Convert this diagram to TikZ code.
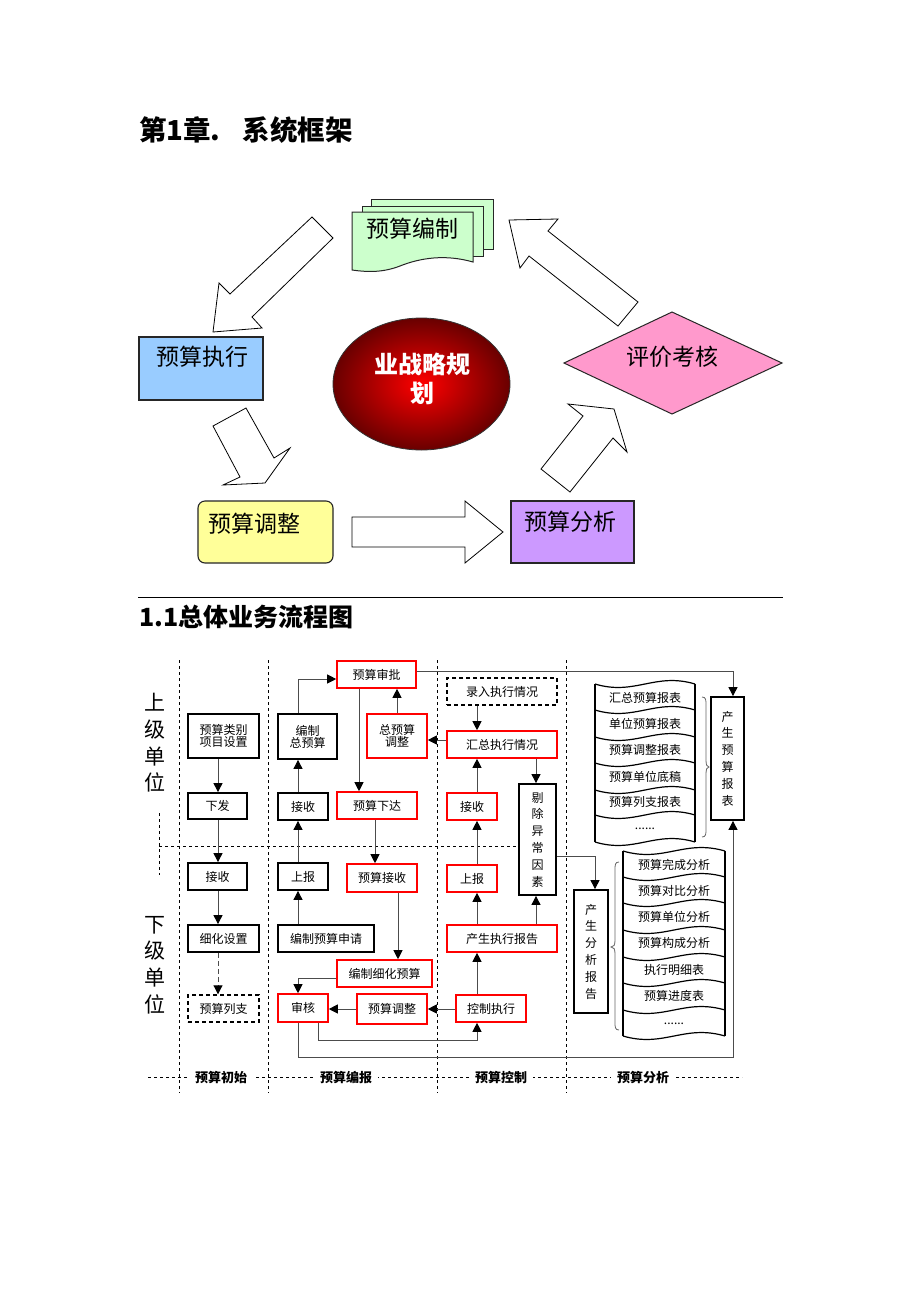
\documentclass[tikz,border=0pt]{standalone}
\usepackage{fontspec}
\setmainfont{Noto Sans CJK SC}
\usetikzlibrary{arrows.meta,shapes.geometric,calc}
\newcommand\fpx[1]{\fontsize{#1}{#1}\selectfont}
\newcommand\bx[7]{\node[#2, minimum width={#5-#3}, minimum height={#6-#4}] (#1) at ({(#3+#5)/2},{(#4+#6)/2}) {#7};}
\definecolor{cgreen}{RGB}{204,255,204}
\definecolor{cblue}{RGB}{153,204,255}
\definecolor{cpink}{RGB}{255,153,204}
\definecolor{cyellow}{RGB}{255,255,153}
\definecolor{cpurple}{RGB}{204,153,255}
\definecolor{dred}{RGB}{105,0,0}
\definecolor{bred}{RGB}{255,0,0}
\begin{document}
\begin{tikzpicture}[x=1pt,y=-1pt,
  bk/.style={draw=black, line width=1.8pt, fill=white, inner sep=0pt, font=\fpx{12}, align=center},
  rd/.style={draw=red, line width=1.6pt, fill=white, inner sep=0pt, font=\fpx{12}, align=center},
  dsh/.style={bk, line width=1.4pt, dash pattern=on 4pt off 3pt},
  vt/.style={font=\fontsize{12}{16.8}\selectfont},
  conn/.style={draw=black!70, line width=0.9pt, -{Triangle[length=9pt,width=9pt,color=black]}},
  vdiv/.style={draw=black, line width=0.7pt, dash pattern=on 3pt off 3pt},
  hollow/.style={draw=black, line width=0.8pt, fill=white, line join=miter},
  topbox/.style={draw=black!85, line width=1.1pt, inner sep=0pt},
  bigtxt/.style={font=\fpx{23}, inner sep=0pt},
  lbl/.style={font=\fpx{12}, inner sep=0pt},
  lst/.style={draw=black, line width=1.2pt},
  brc/.style={draw=black!60, line width=0.8pt},
  side/.style={font=\fontsize{21}{26.7}\selectfont, align=center, inner sep=0pt},
  foot/.style={font=\bfseries\fpx{13}, fill=white, inner xsep=6pt, inner ysep=2pt}]
\fill[white] (0,0) rectangle (920,1302);
\useasboundingbox (0,0) rectangle (920,1302);

% ---------- titles ----------
\node[anchor=west, font=\bfseries\fpx{27.5}, inner sep=0pt] (title) at (139,130) {第1章.\hspace{22pt}系统框架};
\draw[black, line width=1pt] (138,597.5) -- (783,597.5);
\node[anchor=west, font=\bfseries\fpx{25}, inner sep=0pt] (head) at (139,617) {1.1总体业务流程图};

% ---------- top cycle ----------
\draw[draw=black!85, line width=1pt, fill=cgreen] (371,199) rectangle (493,249);
\draw[draw=black!85, line width=1pt, fill=cgreen] (362,206) rectangle (483,256);
\draw[draw=black!85, line width=1pt, fill=cgreen] (352,212) -- (473,212) -- (473,262)
  .. controls (445,254) and (420,258) .. (400,266) .. controls (382,273) and (366,272) .. (352,270) -- cycle;
\node[bigtxt] (bz) at (412,229) {预算编制};

\node[topbox, fill=cblue, minimum width=124, minimum height=63] (zx) at (201,368.5) {};
\node[bigtxt] (zxt) at (202,357) {预算执行};

\node[topbox, fill=cyellow, rounded corners=7pt, minimum width=135, minimum height=62] (tz) at (265.5,532) {};
\node[bigtxt] (tzt) at (254,524) {预算调整};

\node[topbox, fill=cpurple, minimum width=123, minimum height=62] (fx) at (572.5,532) {};
\node[bigtxt] (fxt) at (570,522) {预算分析};

\draw[draw=black!85, line width=1pt, fill=cpink] (564,363) -- (672,312) -- (782,363) -- (672,414) -- cycle;
\node[bigtxt] (pj) at (672,357) {评价考核};

\node[ellipse, draw=black!80, line width=0.8pt, minimum width=177, minimum height=132, inner sep=0pt,
  shading=radial, inner color=bred, outer color=dred] (core) at (421.5,384) {};
\node[font=\bfseries\fontsize{24}{29}\selectfont, text=white, align=center, inner sep=0pt] (coret) at (422,379) {业战略规\\划};

% hollow arrows
\draw[hollow] (213,332) -- (219,283) -- (230,294) -- (312,217) -- (333,238) -- (252,317) -- (262,328) -- cycle;
\draw[hollow] (213,426) -- (246,408) -- (274,458) -- (290,448) -- (265,483) -- (223,485) -- (240,477) -- cycle;
\draw[hollow] (352,517) -- (465,517) -- (465,501) -- (503,532) -- (465,563) -- (465,547) -- (352,547) -- cycle;
\draw[hollow] (541,469) -- (583,416) -- (568,404) -- (614,409) -- (627,452) -- (613,438) -- (570,492) -- cycle;
\draw[hollow] (509,220) -- (558,219) -- (548,231) -- (638,302) -- (618,326) -- (529,256) -- (520,268) -- cycle;

% ---------- flow chart: dividers ----------
\foreach \xx in {179,268,437,566} \draw[vdiv] (\xx,660) -- (\xx,1093);
\draw[vdiv] (159,846) -- (519,846);
\draw[vdiv] (159,813) -- (159,875);
\draw[vdiv] (148,1077) -- (742,1077);
\node[foot] (f1) at (221,1078) {预算初始};
\node[foot] (f2) at (346,1078) {预算编报};
\node[foot] (f3) at (501,1078) {预算控制};
\node[foot] (f4) at (643,1078) {预算分析};

\node[side] (up) at (155,743) {上\\级\\单\\位};
\node[side] (dn) at (155,965) {下\\级\\单\\位};

% helper coordinates
\coordinate (cA) at (218,0);
\coordinate (cB) at (298,0);
\coordinate (cC) at (318,0);
\coordinate (cD) at (359,0);
\coordinate (cE) at (397,0);
\coordinate (cF) at (375,0);
\coordinate (cG) at (398,0);
\coordinate (cH) at (477,0);
\coordinate (cI) at (536,0);
\coordinate (cJ) at (595,0);
\coordinate (cK) at (733,0);
\coordinate (rA) at (0,671);
\coordinate (rB) at (0,679);
\coordinate (rC) at (0,1040);
\coordinate (rD) at (0,1057);
\coordinate (rE) at (0,856);
\coordinate (rF) at (0,978);
\coordinate (rG) at (0,1009);
\coordinate (rH) at (0,740);

% column 1
\bx{n1}{bk}{188}{714}{259}{758}{预算类别\\项目设置}
\bx{n2}{bk}{188}{793}{247}{819}{下发}
\bx{n3}{bk}{188}{863}{247}{890}{接收}
\bx{n4}{bk}{188}{925}{259}{952}{细化设置}
\bx{n5}{dsh}{188}{995}{259}{1022}{预算列支}
% column 2
\bx{m1}{bk}{278}{714}{337}{759}{编制\\总预算}
\bx{m2}{bk}{278}{793}{328}{820}{接收}
\bx{m3}{bk}{278}{863}{328}{890}{上报}
\bx{m4}{bk}{278}{925}{374}{952}{编制预算申请}
\bx{r1}{rd}{337}{661}{416}{688}{预算审批}
\bx{r2}{rd}{367}{714}{427}{758}{总预算\\调整}
\bx{r3}{rd}{337}{792}{417}{819}{预算下达}
\bx{r4}{rd}{347}{864}{417}{892}{预算接收}
\bx{r5}{rd}{337}{960}{432}{987}{编制细化预算}
\bx{r6}{rd}{278}{994}{328}{1022}{审核}
\bx{r7}{rd}{357}{994}{427}{1024}{预算调整}
% column 3
\bx{k1}{dsh}{447}{678}{557}{705}{录入执行情况}
\bx{k2}{rd}{447}{731}{557}{758}{汇总执行情况}
\bx{k3}{rd}{447}{793}{497}{820}{接收}
\bx{k4}{rd}{447}{865}{497}{892}{上报}
\bx{k5}{rd}{447}{925}{557}{952}{产生执行报告}
\bx{k6}{rd}{456}{995}{526}{1022}{控制执行}
\bx{k7}{bk,vt}{519}{784}{556}{895}{剔\\除\\异\\常\\因\\素}
% column 4
\bx{p1}{bk,vt}{574}{890}{608}{1013}{产\\生\\分\\析\\报\\告}
\bx{p2}{bk,vt}{711}{697}{744}{820}{产\\生\\预\\算\\报\\表}

% report lists
\foreach \yy in {684,710,737,763,790,815,842}
  \draw[lst] (595,\yy) .. controls (635,\yy+12) and (655,\yy-12) .. (695,\yy);
\draw[lst] (595,684) -- (595,842);
\draw[lst] (695,684) -- (695,842);
\node[lbl] (a1) at (645,698) {汇总预算报表};
\node[lbl] (a2) at (645,724) {单位预算报表};
\node[lbl] (a3) at (645,750) {预算调整报表};
\node[lbl] (a4) at (645,777) {预算单位底稿};
\node[lbl] (a5) at (645,802) {预算列支报表};
\node[lbl] (a6) at (645,829) {......};

\foreach \yy in {851,877,903,930,957,983,1010,1036}
  \draw[lst] (623,\yy) .. controls (664,\yy+12) and (684,\yy-12) .. (725,\yy);
\draw[lst] (623,851) -- (623,1036);
\draw[lst] (725,851) -- (725,1036);
\node[lbl] (b1) at (674,865) {预算完成分析};
\node[lbl] (b2) at (674,891) {预算对比分析};
\node[lbl] (b3) at (674,917) {预算单位分析};
\node[lbl] (b4) at (674,943) {预算构成分析};
\node[lbl] (b5) at (674,970) {执行明细表};
\node[lbl] (b6) at (674,996) {预算进度表};
\node[lbl] (b7) at (674,1024) {......};

% braces
\draw[brc] (702,697) .. controls (706,697) and (706,700) .. (706,705) -- (706,760)
  .. controls (706,765) and (707,767) .. (709,767) .. controls (707,767) and (706,769) .. (706,774)
  -- (706,829) .. controls (706,834) and (706,837) .. (702,837);
\draw[brc] (619,862) .. controls (615,862) and (615,865) .. (615,870) -- (615,940)
  .. controls (615,945) and (614,947) .. (611,947) .. controls (614,947) and (615,949) .. (615,954)
  -- (615,1022) .. controls (615,1027) and (615,1030) .. (619,1030);

% connectors column 1
\draw[conn] (n1.south -| cA) -- (n2.north -| cA);
\draw[conn] (n2.south -| cA) -- (n3.north -| cA);
\draw[conn] (n3.south -| cA) -- (n4.north -| cA);
\draw[conn, dash pattern=on 5pt off 3pt] (n4.south -| cA) -- (n5.north -| cA);
% column 2
\draw[conn] (m4.north -| cB) -- (m3.south -| cB);
\draw[conn] (m3.north -| cB) -- (m2.south -| cB);
\draw[conn] (m2.north -| cB) -- (m1.south -| cB);
\draw[conn] (m1.north -| cB) |- (r1.west |- rB);
\draw[conn] (r1.south -| cD) -- (r3.north -| cD);
\draw[conn] (r2.north -| cE) -- (r1.south -| cE);
\draw[conn] (k2.west |- rH) -- (r2.east |- rH);
\draw[conn] (r3.south -| cF) -- (r4.north -| cF);
\draw[conn] (r4.south -| cG) -- (r5.north -| cG);
\draw[conn] (r5.west |- rF) -| (r6.north -| cB);
\draw[conn] (r7.west |- rG) -- (r6.east |- rG);
\draw[conn] (k6.west |- rG) -- (r7.east |- rG);
\draw[conn] (r6.south -| cC) |- (rC -| cH) -- (k6.south -| cH);
\draw[conn] (r6.south -| cB) |- (rD -| cK) -- (p2.south -| cK);
% column 3
\draw[conn] (k1.south -| cH) -- (k2.north -| cH);
\draw[conn] (k3.north -| cH) -- (k2.south -| cH);
\draw[conn] (k4.north -| cH) -- (k3.south -| cH);
\draw[conn] (k5.north -| cH) -- (k4.south -| cH);
\draw[conn] (k6.north -| cH) -- (k5.south -| cH);
\draw[conn] (k5.north -| cI) -- (k7.south -| cI);
\draw[conn] (k2.south -| cI) -- (k7.north -| cI);
\draw[conn] (k7.east |- rE) -| (p1.north -| cJ);
\draw[conn] (r1.east |- rA) -| (p2.north -| cK);
\end{tikzpicture}
\end{document}
